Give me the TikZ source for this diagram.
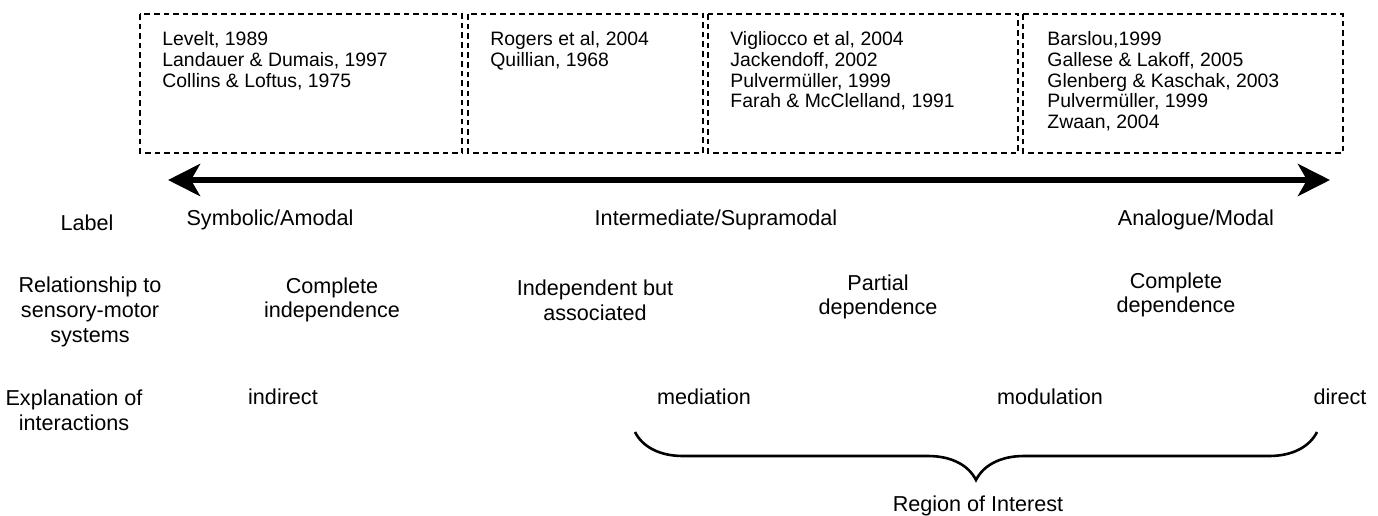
\documentclass[tikz,border=0pt]{standalone}
\usepackage{fontspec}
\setmainfont{Liberation Sans}
\usetikzlibrary{arrows.meta, decorations.pathreplacing}

\begin{document}
\begin{tikzpicture}[x=0.5pt,y=-0.5pt,
  refbox/.style={draw,line width=1.4pt,dash pattern=on 2.8pt off 2pt},
  reftext/.style={anchor=north west,inner sep=0pt,align=left,font=\fontsize{9.7}{10.4}\selectfont},
  lbl/.style={inner sep=0pt,align=center,font=\fontsize{10.8}{12.3}\selectfont}]
\useasboundingbox (0,0) rectangle (1378,515);
\foreach \a/\b in {140/462,468/703,708/1018,1023/1343} \draw[refbox] (\a,14) rectangle (\b,153);
\node[reftext] (lit1) at (162,31) {Levelt, 1989\\Landauer \& Dumais, 1997\\Collins \& Loftus, 1975};
\node[reftext] (lit2) at (490,31) {Rogers et al, 2004\\Quillian, 1968};
\node[reftext] (lit3) at (730,31) {Vigliocco et al, 2004\\Jackendoff, 2002\\Pulvermüller, 1999\\Farah \& McClelland, 1991};
\node[reftext] (lit4) at (1047,31) {Barslou,1999\\Gallese \& Lakoff, 2005\\Glenberg \& Kaschak, 2003\\Pulvermüller, 1999\\Zwaan, 2004};
\coordinate (amodal) at (168,180);
\coordinate (modal) at (1330,180);
\draw[{Stealth[length=16pt,width=16pt,inset=4.5pt]}-{Stealth[length=16pt,width=16pt,inset=4.5pt]},line width=3pt] (amodal) -- (modal);
\node[lbl,anchor=base] (rowlabel) at (87,230) {Label};
\node[lbl,anchor=base] (symb) at (270,225) {Symbolic/Amodal};
\node[lbl,anchor=base] (inter) at (716,225) {Intermediate/Supramodal};
\node[lbl,anchor=base] (analog) at (1196,225) {Analogue/Modal};
\node[lbl] (rowrel) at (90,312) {Relationship to\\sensory-motor\\systems};
\node[lbl] (compind) at (332,300) {Complete\\independence};
\node[lbl] (indassoc) at (595,300) {Independent but\\associated};
\node[lbl] (partdep) at (878,297) {Partial\\dependence};
\node[lbl] (compdep) at (1176,295) {Complete\\dependence};
\node[lbl] (rowexpl) at (74,410) {Explanation of\\interactions};
\node[lbl,anchor=base] (indirect) at (283,404) {indirect};
\node[lbl,anchor=base] (mediation) at (704,404) {mediation};
\node[lbl,anchor=base] (modulation) at (1050,404) {modulation};
\node[lbl,anchor=base] (direct) at (1340,404) {direct};
\coordinate (roiL) at (635,432);
\coordinate (roiR) at (1317,432);
\draw[decorate,decoration={brace,amplitude=24pt},line width=1.3pt] (roiR) -- (roiL);
\node[lbl,anchor=base] (roi) at (978,511) {Region of Interest};
\end{tikzpicture}
\end{document}
